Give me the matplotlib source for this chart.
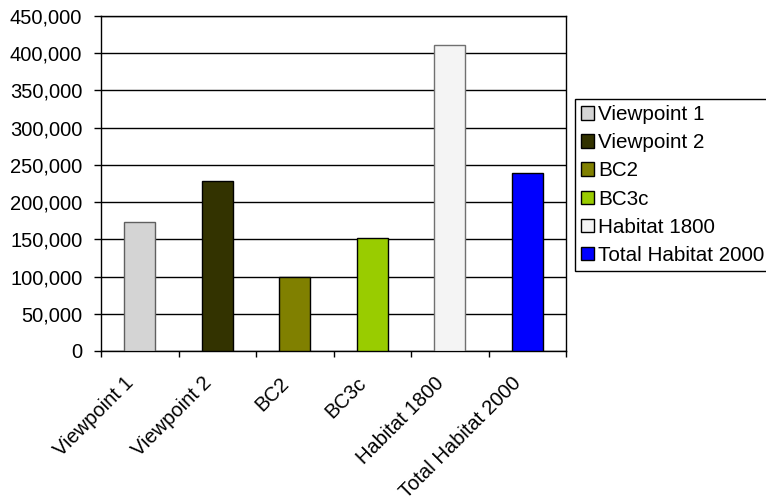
import matplotlib
matplotlib.use("Agg")
import matplotlib.pyplot as plt
from matplotlib.ticker import FuncFormatter, MultipleLocator, FixedLocator
from matplotlib.transforms import ScaledTranslation
import numpy as np

categories = ["Viewpoint 1", "Viewpoint 2", "BC2", "BC3c", "Habitat 1800", "Total Habitat 2000"]
values = [173000, 228000, 99000, 151500, 411500, 238500]
colors = ["#D4D4D4", "#333300", "#808000", "#99CC00", "#F4F4F4", "#0000FF"]
edges = ["#606060", "#000000", "#000000", "#000000", "#707070", "#000000"]

plt.rcParams['font.family'] = ['Liberation Sans', 'DejaVu Sans']
FS = 14.5

fig = plt.figure(figsize=(7.66, 5.01), dpi=100)
ax = fig.add_axes([101/766, 1-351/501, 465/766, 335/501])

x = np.arange(len(categories))
for i, (c, v) in enumerate(zip(categories, values)):
    ax.bar(x[i], v, width=0.4, color=colors[i], edgecolor=edges[i], linewidth=1.0,
           label=c, zorder=3)

ax.set_xlim(-0.5, len(categories) - 0.5)
ax.set_ylim(0, 450000)
ax.yaxis.set_major_locator(MultipleLocator(50000))
ax.yaxis.set_major_formatter(FuncFormatter(lambda v, p: f"{int(v):,}"))
ax.grid(axis='y', color='black', linewidth=1.0, zorder=0)
ax.set_axisbelow(True)

ax.set_xticks(x)
ax.set_xticklabels(categories, rotation=45, ha='right', va='center',
                   rotation_mode='anchor', fontsize=FS)
ax.tick_params(axis='x', which='major', length=0, pad=21)
shift = ScaledTranslation(-9/100, 0, fig.dpi_scale_trans)
for lab in ax.get_xticklabels():
    lab.set_transform(lab.get_transform() + shift)
ax.xaxis.set_minor_locator(FixedLocator(np.arange(-0.5, len(categories), 1.0)))
ax.tick_params(axis='x', which='minor', length=4.5, width=1, color='black', direction='out')
ax.tick_params(axis='y', length=5, width=1, color='black', direction='out', labelsize=FS, pad=8.5)

for s in ax.spines.values():
    s.set_color('black')
    s.set_linewidth(1.0)

leg = fig.legend(loc='upper left', bbox_to_anchor=(575/766, 1-99/501), fontsize=14.9,
                 frameon=True, fancybox=False, edgecolor='black', framealpha=1,
                 handlelength=0.62, handleheight=0.62, handletextpad=0.2,
                 labelspacing=0.44, borderpad=0.3, borderaxespad=0)
leg.get_frame().set_linewidth(1.0)
for h in leg.legend_handles:
    h.set_edgecolor('black')

fig.savefig("out.png", dpi=100)
